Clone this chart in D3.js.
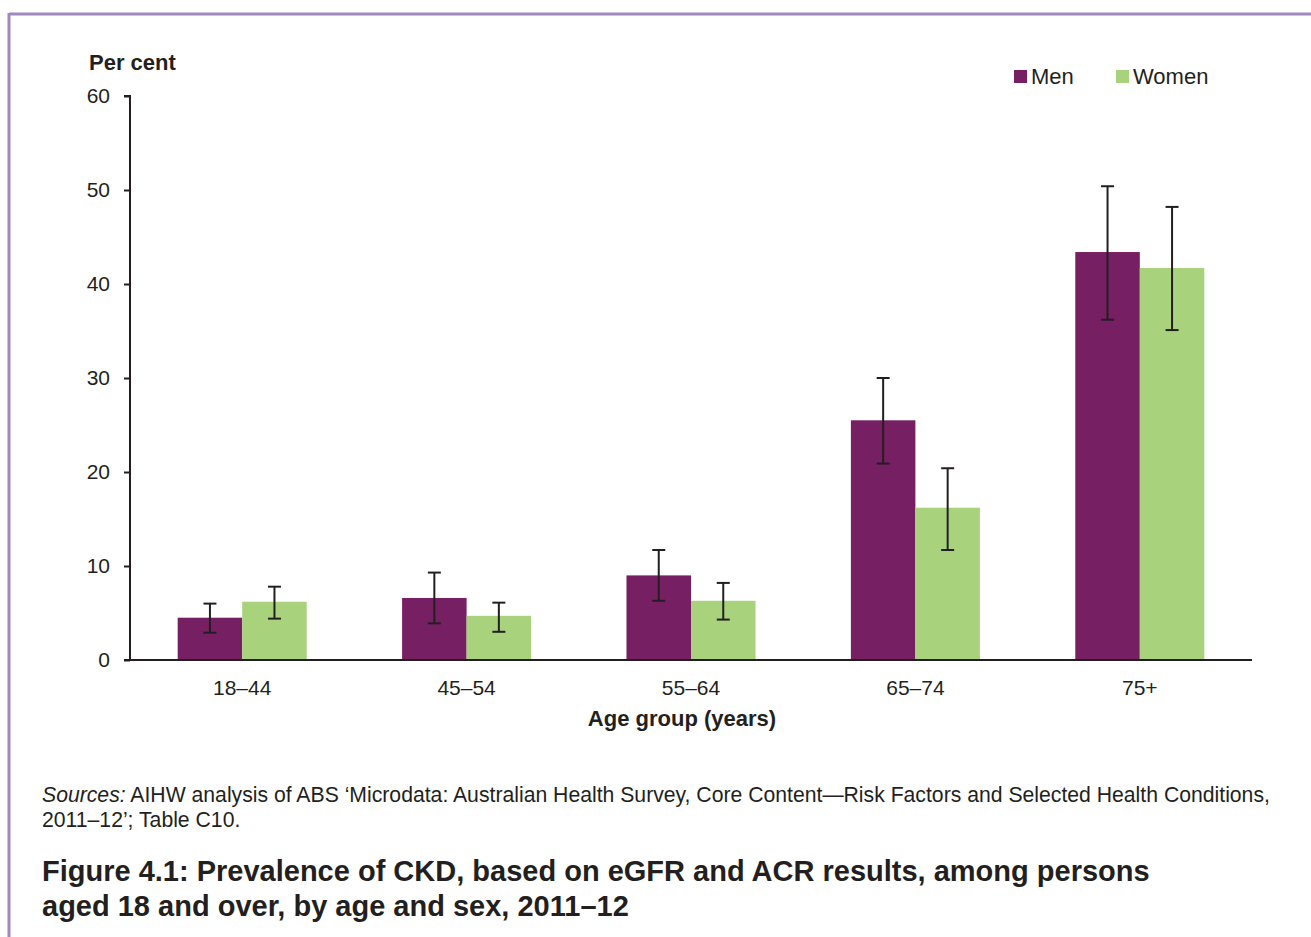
<!DOCTYPE html>
<html><head><meta charset="utf-8">
<script src="https://cdn.jsdelivr.net/npm/d3@7"></script>
<style>
body{margin:0;background:#fff;}
svg text{font-family:"Liberation Sans",Arial,sans-serif;fill:#231f20;}
</style></head>
<body><svg id="c" width="1311" height="937"></svg>
<script>
const categories = ["18–44","45–54","55–64","65–74","75+"];
const series = ["Men","Women"];
const menValues = [4.5, 6.6, 9.0, 25.5, 43.4];
const menLow = [2.9, 3.9, 6.3, 20.9, 36.2];
const menHigh = [6.0, 9.3, 11.7, 30.0, 50.4];
const womenValues = [6.2, 4.7, 6.3, 16.2, 41.7];
const womenLow = [4.4, 3.0, 4.3, 11.7, 35.1];
const womenHigh = [7.8, 6.1, 8.2, 20.4, 48.2];
const yTicks = [0,10,20,30,40,50,60];
const colors = {Men:"#761f63", Women:"#a8d37c"};

const data = categories.map((c,i)=>({cat:c, vals:[
  {s:"Men", v:menValues[i], lo:menLow[i], hi:menHigh[i]},
  {s:"Women", v:womenValues[i], lo:womenLow[i], hi:womenHigh[i]}]}));

const svg = d3.select("#c");
// frame
svg.append("line").attr("x1",9).attr("x2",1311).attr("y1",14).attr("y2",14).attr("stroke","#a088c0").attr("stroke-width",3);
svg.append("line").attr("x1",9).attr("x2",9).attr("y1",13).attr("y2",937).attr("stroke","#a088c0").attr("stroke-width",3);

const L=130, R=1252, T=96, B=660;
const x = d3.scaleBand().domain(categories).range([L,R]).paddingInner(0.425).paddingOuter(0.2125);
const xs = d3.scaleBand().domain(series).range([0,x.bandwidth()]);
const y = d3.scaleLinear().domain([0,60]).range([B,T]);

const g = svg.append("g");
const grp = g.selectAll("g.grp").data(data).join("g").attr("transform",d=>`translate(${x(d.cat)},0)`);
grp.selectAll("rect").data(d=>d.vals).join("rect")
  .attr("x",d=>xs(d.s)).attr("width",xs.bandwidth())
  .attr("y",d=>y(d.v)).attr("height",d=>B-y(d.v)).attr("fill",d=>colors[d.s]);
const eb = grp.selectAll("g.eb").data(d=>d.vals).join("g").attr("stroke","#231f20").attr("stroke-width",2);
eb.append("line").attr("x1",d=>xs(d.s)+xs.bandwidth()/2).attr("x2",d=>xs(d.s)+xs.bandwidth()/2).attr("y1",d=>y(d.lo)).attr("y2",d=>y(d.hi));
eb.append("line").attr("x1",d=>xs(d.s)+xs.bandwidth()/2-6.5).attr("x2",d=>xs(d.s)+xs.bandwidth()/2+6.5).attr("y1",d=>y(d.lo)).attr("y2",d=>y(d.lo));
eb.append("line").attr("x1",d=>xs(d.s)+xs.bandwidth()/2-6.5).attr("x2",d=>xs(d.s)+xs.bandwidth()/2+6.5).attr("y1",d=>y(d.hi)).attr("y2",d=>y(d.hi));

// y axis
const ya = svg.append("g").attr("transform",`translate(${L},0)`)
  .call(d3.axisLeft(y).tickValues(yTicks).tickSize(6).tickPadding(14).tickFormat(d3.format("d")));
ya.select(".domain").attr("stroke","#231f20").attr("stroke-width",2).attr("d",`M-6,${T}H0V${B}`);
ya.selectAll(".tick line").attr("stroke","#231f20").attr("stroke-width",2);
ya.selectAll(".tick text").attr("font-size",21).attr("fill","#231f20").attr("font-family","Liberation Sans, Arial, sans-serif");

// x axis
const xa = svg.append("g").attr("transform",`translate(0,${B})`)
  .call(d3.axisBottom(x).tickSize(0).tickPadding(20));
xa.select(".domain").attr("stroke","#231f20").attr("stroke-width",2).attr("d",`M${L-6},0H${R}`);
xa.selectAll(".tick text").attr("font-size",21).attr("fill","#231f20").attr("font-family","Liberation Sans, Arial, sans-serif");

svg.append("text").attr("x",89).attr("y",70).attr("font-size",22).attr("font-weight","bold").text("Per cent");
svg.append("text").attr("x",682).attr("y",726).attr("text-anchor","middle").attr("font-size",22).attr("font-weight","bold").text("Age group (years)");

// legend
const lg = svg.append("g").selectAll("g").data(series).join("g").attr("transform",(d,i)=>`translate(${1014+i*102},70)`);
lg.append("rect").attr("width",13).attr("height",13).attr("fill",d=>colors[d]);
lg.append("text").attr("x",17).attr("y",14).attr("font-size",22).text(d=>d);

// footer
const src = svg.append("text").attr("x",42).attr("y",802).attr("font-size",21.2).attr("fill","#333");
src.append("tspan").attr("font-style","italic").text("Sources:");
src.append("tspan").text(" AIHW analysis of ABS ‘Microdata: Australian Health Survey, Core Content—Risk Factors and Selected Health Conditions,");
svg.append("text").attr("x",42).attr("y",827).attr("font-size",21.2).attr("fill","#333").text("2011–12’; Table C10.");
svg.append("text").attr("x",42).attr("y",881).attr("font-size",29).attr("font-weight","bold").text("Figure 4.1: Prevalence of CKD, based on eGFR and ACR results, among persons");
svg.append("text").attr("x",42).attr("y",916).attr("font-size",29).attr("font-weight","bold").text("aged 18 and over, by age and sex, 2011–12");
</script></body></html>
